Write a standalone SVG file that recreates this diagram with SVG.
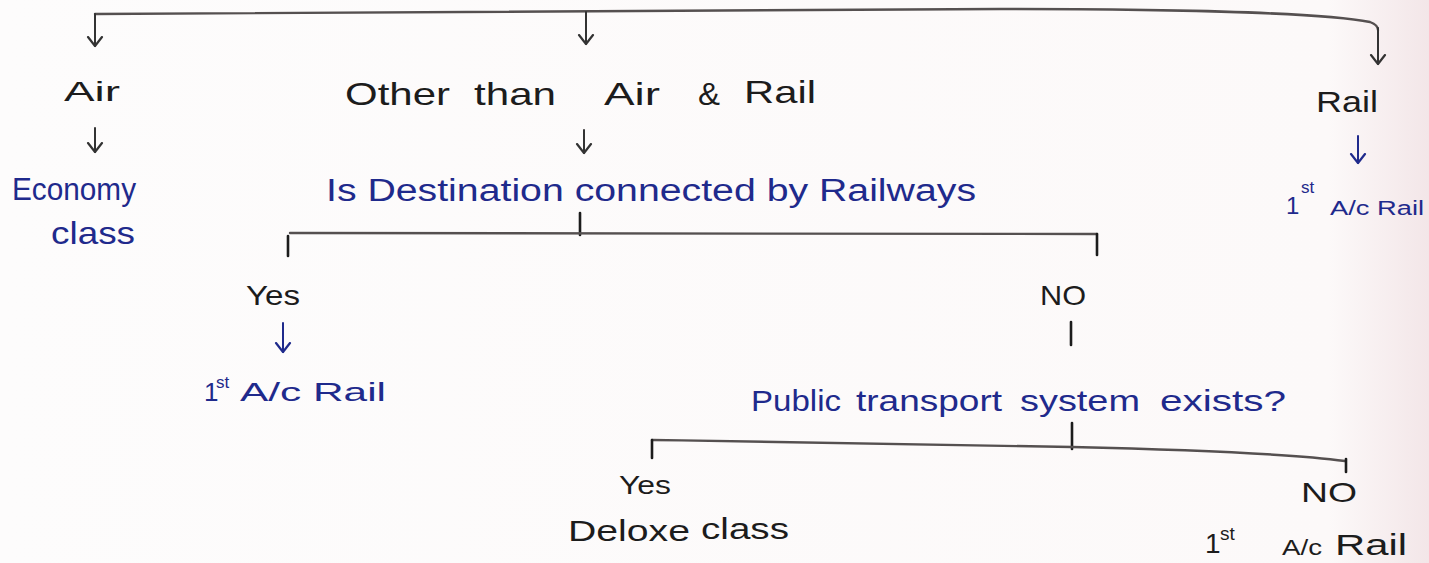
<svg xmlns="http://www.w3.org/2000/svg" width="1429" height="563" viewBox="0 0 1429 563">
<defs>
<linearGradient id="paper" x1="0" y1="0" x2="1" y2="0">
<stop offset="0" stop-color="#fdfcfc"/>
<stop offset="0.93" stop-color="#fcf9f9"/>
<stop offset="1" stop-color="#f3e6e8"/>
</linearGradient>
<marker id="vkb" markerWidth="20" markerHeight="20" viewBox="-10 -10 20 20" refX="0" refY="0" orient="auto" markerUnits="userSpaceOnUse">
<polyline points="-9,-7 0,0 -9,7" fill="none" stroke-linecap="round" stroke-linejoin="round" stroke="#1f2a8c" stroke-width="2.2"/>
</marker>
<marker id="vkk" markerWidth="20" markerHeight="20" viewBox="-10 -10 20 20" refX="0" refY="0" orient="auto" markerUnits="userSpaceOnUse">
<polyline points="-9,-7 0,0 -9,7" fill="none" stroke-linecap="round" stroke-linejoin="round" stroke="#333333" stroke-width="2.2"/>
</marker>
</defs>
<style>
.t{font-family:"Liberation Sans","DejaVu Sans",sans-serif;}
.k{fill:#1c1c1c;}
.b{fill:#1f2a8c;}
.ln{fill:none;stroke:#555050;stroke-width:2.4;stroke-linecap:round;}
.tk{fill:none;stroke:#1c1c1c;stroke-width:2.6;stroke-linecap:round;}
.ak{fill:none;stroke:#333333;stroke-width:2;stroke-linecap:round;marker-end:url(#vkk);}
.ab{fill:none;stroke:#1f2a8c;stroke-width:2;stroke-linecap:round;marker-end:url(#vkb);}
</style>
<rect x="0" y="0" width="1429" height="563" fill="url(#paper)"/>

<g id="connectors">
<path class="ln" d="M95,14 C400,12 700,10 1000,9 C1200,9 1330,14 1370,22 Q1378,25 1378,30"/>
<path class="ak" d="M95,14 L95,46"/>
<path class="ak" d="M586,12 L586,44"/>
<path class="ak" d="M1378,28 L1378,64"/>
<path class="ak" d="M95,128 L95,152"/>
<path class="ak" d="M584,130 L584,153"/>
<path class="ab" d="M1358,136 L1358,163"/>
<path class="tk" d="M580,213 L580,235"/>
<path class="ln" d="M290,233 L1097,234"/>
<path class="tk" d="M288,236 L288,256"/>
<path class="tk" d="M1097,234 L1097,255"/>
<path class="ab" d="M283,323 L283,352"/>
<path class="tk" d="M1071,322 L1071,345"/>
<path class="tk" d="M1072,423 L1072,449"/>
<path class="ln" d="M652,440 C800,442 950,445 1072,447 C1200,450 1300,455 1345,461"/>
<path class="tk" d="M652,440 L652,458"/>
<path class="tk" d="M1346,459 L1346,472"/>
</g>

<g id="node-air"><text class="t k" x="64" y="101" font-size="28" textLength="56" lengthAdjust="spacingAndGlyphs">Air</text></g>
<g id="node-economy"><text class="t b" x="12" y="200" font-size="32" textLength="124" lengthAdjust="spacingAndGlyphs">Economy</text><text class="t b" x="51" y="244" font-size="32" textLength="84" lengthAdjust="spacingAndGlyphs">class</text></g>
<g id="node-other" class="t k" font-size="32">
<text x="345" y="105" textLength="105" lengthAdjust="spacingAndGlyphs">Other</text>
<text x="474" y="105" textLength="82" lengthAdjust="spacingAndGlyphs">than</text>
<text x="604" y="105" textLength="56" lengthAdjust="spacingAndGlyphs">Air</text>
<text x="698" y="105" textLength="22" lengthAdjust="spacingAndGlyphs">&amp;</text>
<text x="744" y="103" textLength="72" lengthAdjust="spacingAndGlyphs">Rail</text>
</g>
<g id="node-destination"><text class="t b" x="326" y="201" font-size="31" textLength="650" lengthAdjust="spacingAndGlyphs">Is Destination connected by Railways</text></g>
<g id="node-rail"><text class="t k" x="1316" y="112" font-size="30" textLength="62" lengthAdjust="spacingAndGlyphs">Rail</text></g>
<g id="node-rail-result">
<text class="t b" x="1286" y="214" font-size="24">1</text>
<text class="t b" x="1301" y="193" font-size="17">st</text>
<text class="t b" x="1330" y="215" font-size="20" textLength="94" lengthAdjust="spacingAndGlyphs">A/c Rail</text>
</g>
<g id="node-yes1"><text class="t k" x="246" y="305" font-size="28" textLength="54" lengthAdjust="spacingAndGlyphs">Yes</text></g>
<g id="node-rail1">
<text class="t b" x="204" y="401" font-size="26">1</text>
<text class="t b" x="216" y="388" font-size="17">st</text>
<text class="t b" x="240" y="401" font-size="26" textLength="146" lengthAdjust="spacingAndGlyphs">A/c   Rail</text>
</g>
<g id="node-no1"><text class="t k" x="1040" y="305" font-size="28" textLength="46" lengthAdjust="spacingAndGlyphs">NO</text></g>
<g id="node-public" class="t b" font-size="30">
<text x="751" y="411" textLength="90" lengthAdjust="spacingAndGlyphs">Public</text>
<text x="856" y="411" textLength="146" lengthAdjust="spacingAndGlyphs">transport</text>
<text x="1020" y="411" textLength="120" lengthAdjust="spacingAndGlyphs">system</text>
<text x="1160" y="411" textLength="126" lengthAdjust="spacingAndGlyphs">exists?</text>
</g>
<g id="node-yes2"><text class="t k" x="619" y="494" font-size="26" textLength="52" lengthAdjust="spacingAndGlyphs">Yes</text></g>
<g id="node-deluxe" class="t k" font-size="30">
<text x="568" y="541" textLength="122" lengthAdjust="spacingAndGlyphs">Deloxe</text>
<text x="701" y="539" textLength="88" lengthAdjust="spacingAndGlyphs">class</text>
</g>
<g id="node-no2"><text class="t k" x="1301" y="502" font-size="28" textLength="56" lengthAdjust="spacingAndGlyphs">NO</text></g>
<g id="node-rail2">
<text class="t k" x="1205" y="553" font-size="28">1</text>
<text class="t k" x="1220" y="540" font-size="19">st</text>
<text class="t k" x="1282" y="555" font-size="22" textLength="40" lengthAdjust="spacingAndGlyphs">A/c</text>
<text class="t k" x="1335" y="555" font-size="30" textLength="72" lengthAdjust="spacingAndGlyphs">Rail</text>
</g>
</svg>
